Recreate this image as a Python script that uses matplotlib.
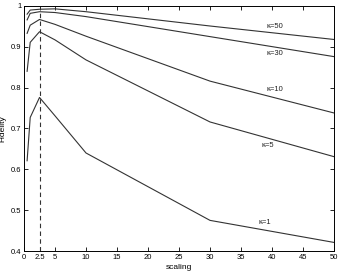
import matplotlib
matplotlib.use("Agg")
import matplotlib.pyplot as plt

scaling = [0.5, 1, 2.5, 5, 10, 30, 50]
fid_k1 = [0.621, 0.727, 0.776, 0.731, 0.640, 0.475, 0.421]
fid_k5 = [0.840, 0.911, 0.937, 0.917, 0.868, 0.716, 0.631]
fid_k10 = [0.933, 0.953, 0.967, 0.955, 0.926, 0.816, 0.738]
fid_k30 = [0.966, 0.982, 0.986, 0.984, 0.974, 0.925, 0.876]
fid_k50 = [0.980, 0.990, 0.992, 0.993, 0.986, 0.951, 0.918]
labels = ["κ=1", "κ=5", "κ=10", "κ=30", "κ=50"]
label_pos = [(38.9, 0.469), (39.4, 0.659), (40.4, 0.796), (40.5, 0.884), (40.5, 0.949)]
xticks = [0, 2.5, 5, 10, 15, 20, 25, 30, 35, 40, 45, 50]
xticklabels = ["0", "2.5", "5", "10", "15", "20", "25", "30", "35", "40", "45", "50"]
yticks = [0.4, 0.5, 0.6, 0.7, 0.8, 0.9, 1.0]
yticklabels = ["0.4", "0.5", "0.6", "0.7", "0.8", "0.9", "1"]

plt.rcParams['font.family'] = ['Liberation Sans', 'DejaVu Sans']
fig = plt.figure(figsize=(3.41, 2.71), dpi=100)
ax = fig.add_axes([0.0704, 0.0738, 0.9091, 0.9041])

for ys in [fid_k1, fid_k5, fid_k10, fid_k30, fid_k50]:
    ax.plot(scaling, ys, color="#333333", lw=0.8)
ax.plot([2.5, 2.5], [0.4, 0.99], color="#333333", lw=0.8, ls=(0, (4, 3)))
for lab, (x, y) in zip(labels, label_pos):
    ax.text(x, y, lab, fontsize=5.5, ha="center", va="center", color="#222222")

ax.set_xlim(0, 50)
ax.set_ylim(0.4, 1.0)
ax.set_xticks(xticks)
ax.set_xticklabels(xticklabels)
ax.set_yticks(yticks)
ax.set_yticklabels(yticklabels)
ax.tick_params(direction="in", top=True, right=True, labelsize=5.5, length=3, width=0.6, pad=2)
for s in ax.spines.values():
    s.set_linewidth(0.7)
ax.set_xlabel("scaling", fontsize=6, labelpad=2)
ax.set_ylabel("Fidelity", fontsize=6, labelpad=3)
fig.savefig("out.png", dpi=100)
